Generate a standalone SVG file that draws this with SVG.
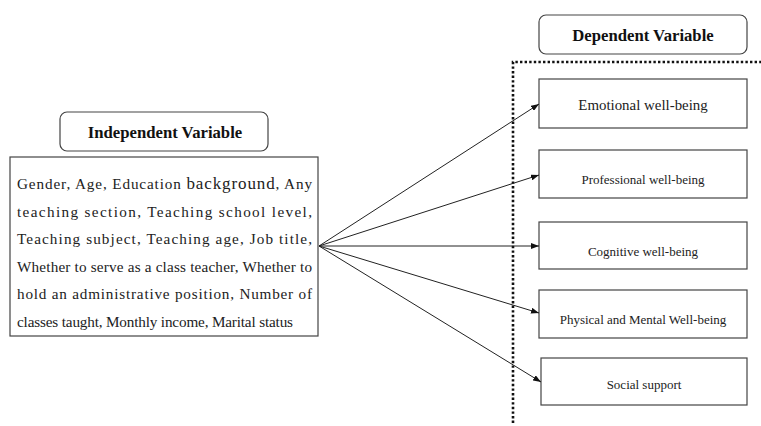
<svg xmlns="http://www.w3.org/2000/svg" width="761" height="426" viewBox="0 0 761 426">
<style>
  .box { fill: #fff; stroke: #444; stroke-width: 1.2; }
  .title { font-family: "Liberation Serif", "Times New Roman", serif; font-weight: bold; font-size: 16.7px; fill: #111; text-anchor: middle; }
  .body { font-family: "Liberation Serif", "Times New Roman", serif; font-size: 15.2px; fill: #222; }
  .lbl { font-family: "Liberation Serif", "Times New Roman", serif; font-size: 13px; fill: #222; text-anchor: middle; }
  .big { font-size: 14.9px; }
  .conn { stroke: #222; stroke-width: 1; fill: none; marker-end: url(#arr); }
  .dots { stroke: #111; stroke-width: 2.6; fill: none; stroke-dasharray: 2.4 2.2; }
</style>
<defs>
  <marker id="arr" viewBox="0 0 8 6" refX="8" refY="3" markerWidth="8" markerHeight="6" markerUnits="userSpaceOnUse" orient="auto">
    <path d="M0,0 L8,3 L0,6 Z" fill="#111"/>
  </marker>
</defs>
<rect width="761" height="426" fill="#fff"/>

<g id="dotted-boundary">
  <path class="dots" d="M513,423 L513,62 L761,62"/>
</g>

<g id="independent-title">
  <rect class="box" x="60" y="112" width="208" height="39" rx="7"/>
  <text class="title" x="165" y="137.5">Independent Variable</text>
</g>

<g id="independent-variables">
  <rect class="box" x="10" y="157" width="308" height="179"/>
  <text class="body" x="17" y="189" textLength="295" lengthAdjust="spacing">Gender, Age, Education <tspan style="font-size:17px">background</tspan>, Any</text>
  <text class="body" x="17" y="216.6" textLength="295" lengthAdjust="spacing">teaching section, Teaching school level,</text>
  <text class="body" x="17" y="244.2" textLength="295" lengthAdjust="spacing">Teaching subject, Teaching age, Job title,</text>
  <text class="body" x="17" y="271.8" textLength="295" lengthAdjust="spacing">Whether to serve as a class teacher, Whether to</text>
  <text class="body" x="17" y="299.4" textLength="295" lengthAdjust="spacing">hold an administrative position, Number of</text>
  <text class="body" x="17" y="327" textLength="276" lengthAdjust="spacing">classes taught, Monthly income, Marital status</text>
</g>

<g id="dependent-title">
  <rect class="box" x="539" y="15" width="208" height="39" rx="7"/>
  <text class="title" x="643" y="40.5">Dependent Variable</text>
</g>

<g id="emotional">
  <rect class="box" x="539" y="79" width="208" height="49"/>
  <text class="lbl big" x="643" y="110">Emotional well-being</text>
</g>
<g id="professional">
  <rect class="box" x="539" y="150" width="208" height="48"/>
  <text class="lbl" x="643" y="184">Professional well-being</text>
</g>
<g id="cognitive">
  <rect class="box" x="539" y="222" width="208" height="47"/>
  <text class="lbl" x="643" y="255.5">Cognitive well-being</text>
</g>
<g id="physical">
  <rect class="box" x="539" y="290" width="208" height="48"/>
  <text class="lbl" x="643" y="324">Physical and Mental Well-being</text>
</g>
<g id="social">
  <rect class="box" x="541" y="358" width="206" height="47"/>
  <text class="lbl" x="644" y="389">Social support</text>
</g>

<g id="connectors">
  <line class="conn" x1="319" y1="246" x2="539" y2="104"/>
  <line class="conn" x1="319" y1="246" x2="539" y2="175"/>
  <line class="conn" x1="319" y1="246" x2="539" y2="246"/>
  <line class="conn" x1="319" y1="246" x2="539" y2="313"/>
  <line class="conn" x1="319" y1="246" x2="541" y2="382"/>
</g>
</svg>
